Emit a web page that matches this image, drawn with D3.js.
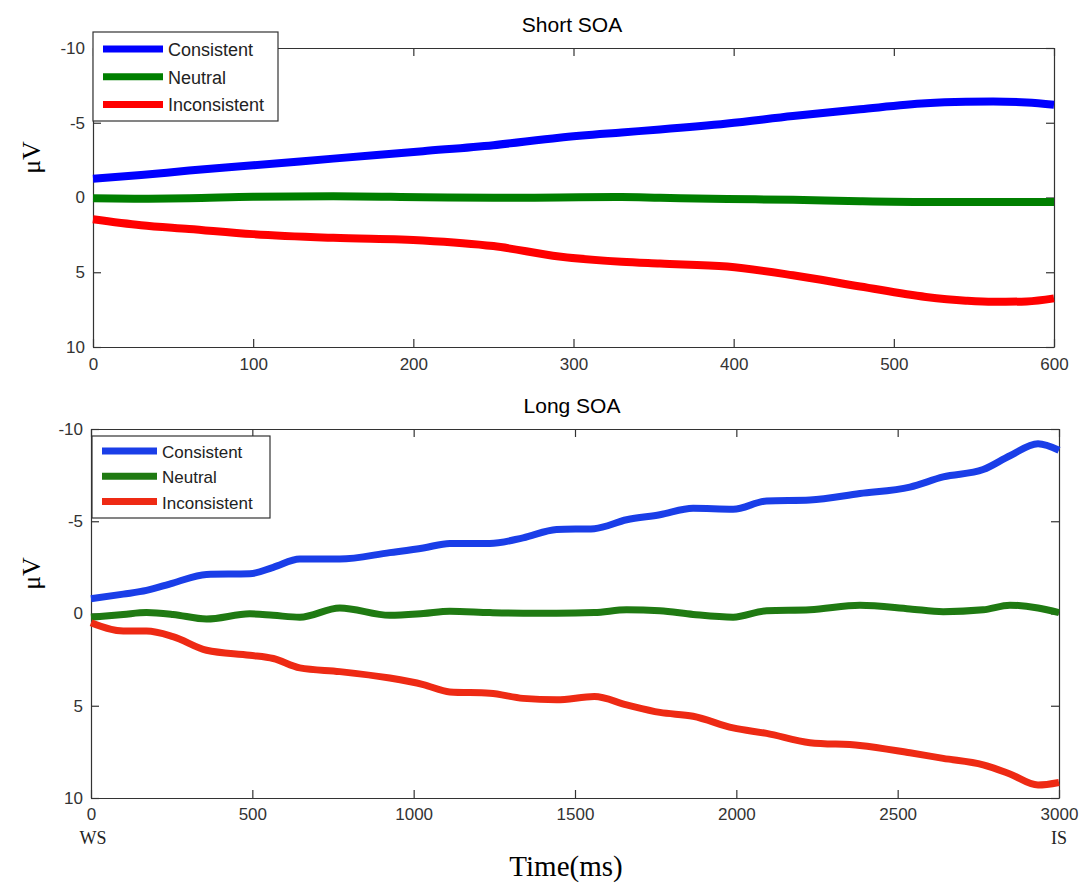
<!DOCTYPE html>
<html>
<head>
<meta charset="utf-8">
<script src="https://cdn.jsdelivr.net/npm/d3@7"></script>
<style>
  body { margin: 0; background: #fff; }
  svg { display: block; }
</style>
</head>
<body>
<div id="chart"></div>
<script>
// Series labels and colours
var conditions = ["Consistent", "Neutral", "Inconsistent"];
var colors = ["#0000ff", "#007f00", "#ff0000"];
var colorsLong = ["#1a3ee8", "#1f7a12", "#ee2a14"];

// Short SOA (time ms, amplitude uV)
var shortTime = [0, 30, 60, 100, 150, 206, 250, 291, 330, 354, 396, 437, 479, 520, 545, 562, 583, 600];
var shortConsistent = [-1.25, -1.5, -1.8, -2.15, -2.6, -3.1, -3.5, -4.0, -4.35, -4.55, -4.95, -5.45, -5.9, -6.3, -6.4, -6.42, -6.35, -6.2];
var shortNeutral = [0.05, 0.08, 0.05, -0.05, -0.08, -0.02, 0.02, 0.0, -0.03, 0.02, 0.1, 0.15, 0.25, 0.3, 0.3, 0.3, 0.3, 0.3];
var shortInconsistent = [1.45, 1.85, 2.1, 2.45, 2.7, 2.87, 3.25, 3.95, 4.3, 4.42, 4.62, 5.2, 5.95, 6.65, 6.9, 6.98, 6.95, 6.75];

// Long SOA
var longTime = [0, 100, 172, 254, 358, 492, 565, 647, 771, 926, 1030, 1112, 1236, 1339, 1443, 1560, 1660, 1763, 1866, 1990, 2094, 2228, 2383, 2538, 2641, 2765, 2848, 2935, 3000];
var longConsistent = [-0.8, -1.05, -1.25, -1.65, -2.12, -2.15, -2.5, -2.95, -2.95, -3.3, -3.55, -3.8, -3.8, -4.1, -4.55, -4.6, -5.08, -5.35, -5.7, -5.65, -6.1, -6.15, -6.5, -6.85, -7.4, -7.8, -8.55, -9.2, -8.85];
var longNeutral = [0.2, 0.05, -0.05, 0.05, 0.3, 0.02, 0.1, 0.2, -0.3, 0.1, 0.0, -0.12, -0.05, -0.02, -0.02, -0.05, -0.2, -0.15, 0.05, 0.2, -0.15, -0.2, -0.45, -0.25, -0.1, -0.2, -0.45, -0.3, -0.05];
var longInconsistent = [0.5, 0.95, 0.95, 1.25, 1.99, 2.26, 2.44, 2.95, 3.15, 3.5, 3.85, 4.25, 4.32, 4.6, 4.68, 4.5, 4.95, 5.36, 5.57, 6.2, 6.5, 7.0, 7.15, 7.55, 7.85, 8.2, 8.7, 9.3, 9.16];

var yTicks = [-10, -5, 0, 5, 10];
var shortTicks = [0, 100, 200, 300, 400, 500, 600];
var longTicks = [0, 500, 1000, 1500, 2000, 2500, 3000];

var width = 1087,
    height = 888;

var sans = "'Liberation Sans', Arial, sans-serif",
    serif = "'Liberation Serif', 'Times New Roman', serif";

var svg = d3.select("#chart")
            .append("svg")
              .attr("width", width)
              .attr("height", height);

// plain labels, hyphen minus, no thousands comma
function plain(d) { return String(d); }

function panel(opt) {
  var x = d3.scaleLinear().domain(opt.xDomain).range([opt.left, opt.right]);
  var y = d3.scaleLinear().domain([-10, 10]).range([opt.top, opt.bottom]);

  var g = svg.append("g");

  // Box with inward ticks on all four sides
  g.append("g")
    .attr("transform", "translate(0," + opt.bottom + ")")
    .call(d3.axisBottom(x).tickValues(opt.xTicks).tickFormat(plain).tickSizeInner(-8).tickSizeOuter(0).tickPadding(opt.xPad));
  g.append("g")
    .attr("transform", "translate(0," + opt.top + ")")
    .call(d3.axisTop(x).tickValues(opt.xTicks).tickSizeInner(-8).tickSizeOuter(0).tickFormat(""));
  g.append("g")
    .attr("transform", "translate(" + opt.left + ",0)")
    .call(d3.axisLeft(y).tickValues(yTicks).tickFormat(plain).tickSizeInner(-8).tickSizeOuter(0).tickPadding(8));
  g.append("g")
    .attr("transform", "translate(" + opt.right + ",0)")
    .call(d3.axisRight(y).tickValues(yTicks).tickSizeInner(-8).tickSizeOuter(0).tickFormat(""));
  g.selectAll(".domain").attr("stroke", "#333").attr("stroke-width", 1.2);
  g.selectAll(".tick line").attr("stroke", "#333").attr("stroke-width", 1.2);
  g.selectAll(".tick text")
    .attr("font-family", sans)
    .attr("font-size", 17)
    .attr("fill", "#333");

  // Curves
  var line = d3.line()
               .x(function(d) { return x(d[0]); })
               .y(function(d) { return y(d[1]); })
               .curve(d3.curveMonotoneX);

  opt.series.forEach(function(s, i) {
    g.append("path")
      .datum(opt.time.map(function(t, j) { return [t, s[j]]; }))
      .attr("d", line)
      .attr("fill", "none")
      .attr("stroke", opt.colors[i])
      .attr("stroke-width", opt.lineWidth)
      .attr("stroke-linejoin", "round");
  });

  // Title
  g.append("text")
    .attr("x", 572)
    .attr("y", opt.top - 16)
    .attr("text-anchor", "middle")
    .style("font-family", sans)
    .style("font-size", "21px")
    .text(opt.title);

  // uV label
  g.append("text")
    .attr("transform", "translate(40," + ((opt.top + opt.bottom) / 2 - 40) + ") rotate(-90)")
    .attr("text-anchor", "middle")
    .style("font-family", serif)
    .style("font-size", "26px")
    .text("\u03BCV");

  // Legend
  var lg = opt.legend;
  g.append("rect")
    .attr("x", lg.x)
    .attr("y", lg.y)
    .attr("width", lg.w)
    .attr("height", lg.h)
    .attr("fill", "#fff")
    .attr("stroke", "#333")
    .attr("stroke-width", 1.2);

  var item = g.selectAll(".legend" + opt.title.length)
              .data(conditions)
              .enter()
              .append("g")
                .attr("transform", function(d, i) {
                  return "translate(" + lg.x + "," + (lg.y + lg.first + i * lg.step) + ")";
                });
  item.append("line")
      .attr("x1", 10)
      .attr("x2", 10 + lg.sample)
      .attr("stroke", function(d, i) { return opt.colors[i]; })
      .attr("stroke-width", 7);
  item.append("text")
      .attr("x", 15 + lg.sample)
      .attr("y", 7)
      .style("font-family", sans)
      .style("font-size", lg.font + "px")
      .style("fill", "#222")
      .text(function(d) { return d; });

  return { x: x, y: y };
}

panel({
  title: "Short SOA",
  xDomain: [0, 600], xTicks: shortTicks, xPad: 11,
  left: 93, right: 1054, top: 48, bottom: 347,
  time: shortTime,
  series: [shortConsistent, shortNeutral, shortInconsistent],
  colors: colors, lineWidth: 8,
  legend: { x: 93, y: 32, w: 185, h: 89, first: 17, step: 27.7, sample: 60, font: 18 }
});

var long = panel({
  title: "Long SOA",
  xDomain: [0, 3000], xTicks: longTicks, xPad: 10,
  left: 91, right: 1059, top: 429, bottom: 798,
  time: longTime,
  series: [longConsistent, longNeutral, longInconsistent],
  colors: colorsLong, lineWidth: 7,
  legend: { x: 92, y: 436, w: 178, h: 82, first: 15, step: 25.3, sample: 55, font: 17 }
});

// Event markers under the time axis
svg.append("text")
  .attr("x", long.x(0) + 2)
  .attr("y", 844)
  .attr("text-anchor", "middle")
  .style("font-family", serif)
  .style("font-size", "18px")
  .style("fill", "#222")
  .text("WS");
svg.append("text")
  .attr("x", long.x(3000))
  .attr("y", 844)
  .attr("text-anchor", "middle")
  .style("font-family", serif)
  .style("font-size", "18px")
  .style("fill", "#222")
  .text("IS");

svg.append("text")
  .attr("x", 566)
  .attr("y", 876)
  .attr("text-anchor", "middle")
  .style("font-family", serif)
  .style("font-size", "29px")
  .text("Time(ms)");
</script>
</body>
</html>
